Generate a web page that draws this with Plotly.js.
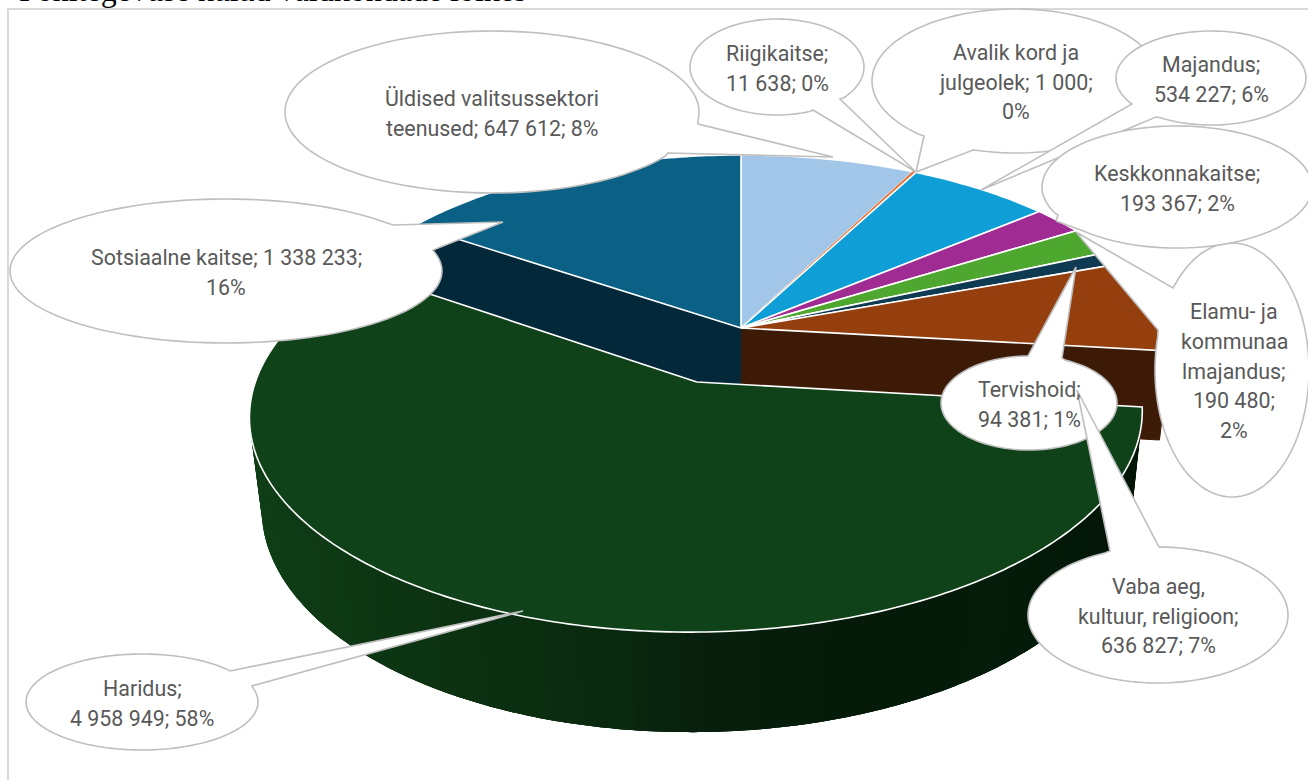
<!DOCTYPE html>
<html><head><meta charset="utf-8">
<script src="https://cdn.plot.ly/plotly-3.0.1.min.js"></script>
<style>html,body{margin:0;padding:0;background:#fff;overflow:hidden}#c{width:1308px;height:780px}</style>
</head><body><div id="c"></div>
<script>
// --- data ---
const categories = ["Üldised valitsussektori teenused","Riigikaitse","Avalik kord ja julgeolek","Majandus","Keskkonnakaitse","Elamu- ja kommunaalmajandus","Tervishoid","Vaba aeg, kultuur, religioon","Haridus","Sotsiaalne kaitse"];
const values = [647612,11638,1000,534227,193367,190480,94381,636827,4958949,1338233];
const labelTemplates = [
  "Üldised valitsussektori|teenused; {v}; {p}%",
  "Riigikaitse;|{v}; {p}%",
  "Avalik kord ja|julgeolek; {v};|{p}%",
  "Majandus;|{v}; {p}%",
  "Keskkonnakaitse;|{v}; {p}%",
  "Elamu- ja|kommunaa|lmajandus;|{v};|{p}%",
  "Tervishoid;|{v}; {p}%",
  "Vaba aeg,|kultuur, religioon;|{v}; {p}%",
  "Haridus;|{v}; {p}%",
  "Sotsiaalne kaitse; {v};|{p}%"
];
const sliceColors = ["#a2c6e8","#e97132","#196b24","#0f9ed5","#a02b93","#4ea72e","#0e3a52","#953f0f","#10421a","#0a6085"];
const chartTitle = "Põhitegevuse kulud valdkondade lõikes";

// --- style / geometry ---
const FONT = "Roboto, sans-serif", TXT = "#595959", EDGE = "#bfbfbf";
const cam = {cx:741, cy:328, R:425, B:197.6, a:0.142, zs:0.975};
const offsets = {8:[-0.10,-0.263]};              // exploded slice: Haridus
const cutFaces = {7:"#3c1a06", 9:"#02283a"};     // visible cut walls
const wallStops = [[252,[15,62,22]],[400,[12,52,18]],[560,[11,44,16]],[700,[8,32,13]],[850,[5,26,9]],[1000,[5,28,10]],[1145,[2,20,6]]];
// callouts: ellipse centre, radii, tail tip, tail base points; listed in drawing order
const callouts = [
 {i:0,c:[492,112],r:[207,81],tip:[833,157],b:[[698,124],[668,153]]},
 {i:1,c:[777,67],r:[87,48],tip:[916,172],b:[[813,110],[840,99]]},
 {i:2,c:[1016,81],r:[144,72],tip:[916,172],b:[[924,136],[973,150]]},
 {i:3,c:[1211,78],r:[95,47],tip:[981,190],b:[[1132,104],[1156,117]]},
 {i:5,c:[1232,370],r:[77,127],tip:[1076,232],b:[[1173,288],[1158,330]]},
 {i:4,c:[1177,187],r:[135,61],tip:[1056,221],b:[[1058,215],[1078,229]]},
 {i:6,c:[1029,403],r:[88,47],tip:[1076,267],b:[[1028,356],[1062,358]]},
 {i:7,c:[1158,615],r:[130,68],tip:[1077,390],b:[[1110,551],[1159,547]]},
 {i:8,c:[142,702],r:[116,48],tip:[523,611],b:[[230,671],[252,686]]},
 {i:9,c:[226,271],r:[216,72],tip:[503,222],b:[[393,225],[433,250]]}
];

const total = values.reduce((a,b)=>a+b,0);
const fmt = v => String(v).replace(/\B(?=(\d{3})+$)/g," ");
function project(x,y,bottom){
  const s = 1/(1+cam.a*y);
  return [cam.cx+cam.R*x*s*(bottom?cam.zs:1), cam.cy-cam.B*y*s+(bottom?33+55*s:0)];
}
function rim(i,th,bottom){
  const o = offsets[i]||[0,0];
  return project(Math.sin(th)+o[0],Math.cos(th)+o[1],bottom);
}
function apex(i,bottom){ const o=offsets[i]||[0,0]; return project(o[0],o[1],bottom); }
function poly(pts,fill,lineColor,width){
  return {type:"scatter",mode:"lines",x:pts.map(p=>p[0]),y:pts.map(p=>p[1]),fill:"toself",fillcolor:fill,
    line:{color:lineColor,width:width,simplify:false},hoverinfo:"skip",showlegend:false};
}
function wallColor(x){
  for(let k=1;k<wallStops.length;k++){
    if(x<=wallStops[k][0]){
      const [x0,c0]=wallStops[k-1],[x1,c1]=wallStops[k],t=Math.max(0,(x-x0)/(x1-x0));
      return "rgb("+c0.map((c,j)=>Math.round(c+(c1[j]-c)*t)).join(",")+")";
    }
  }
  return "rgb("+wallStops[wallStops.length-1][1].join(",")+")";
}

// slice angles from the values
let cum=0;
const spans = values.map(v=>{const a=cum/total*2*Math.PI; cum+=v; return [a,cum/total*2*Math.PI];});
const traces=[];
function topFace(i){
  const [a0,a1]=spans[i], n=Math.max(2,Math.ceil((a1-a0)/0.015)), pts=[apex(i,false)];
  for(let k=0;k<=n;k++) pts.push(rim(i,a0+(a1-a0)*k/n,false));
  pts.push(apex(i,false));
  const big = values[i]/total>0.005;
  return poly(pts,sliceColors[i],big?"#ffffff":sliceColors[i],big?1.6:1);
}
// back pieces: cut walls, then top faces
Object.keys(cutFaces).forEach(k=>{
  const i=+k, th=(i===7)?spans[i][1]:spans[i][0];
  traces.push(poly([apex(i,false),rim(i,th,false),rim(i,th,true),apex(i,true)],cutFaces[k],cutFaces[k],1));
});
values.forEach((v,i)=>{ if(i!==8) traces.push(topFace(i)); });
// exploded slice: outer wall painted band by band; each band overlaps the next to hide seams
{
  const [a0,a1]=spans[8], step=0.035, n=Math.ceil((a1-a0)/step);
  for(let k=0;k<n;k++){
    const t0=a0+(a1-a0)*k/n, t1=Math.min(a1,a0+(a1-a0)*(k+3)/n), m=a0+(a1-a0)*(k+0.5)/n;
    const col=wallColor(rim(8,m,false)[0]);
    const pts=[], J=9;
    for(let j=0;j<=J;j++) pts.push(rim(8,t1+(t0-t1)*j/J,false));
    for(let j=J;j>=0;j--) pts.push(rim(8,t1+(t0-t1)*j/J,true));
    pts.push(pts[0]);
    traces.push(poly(pts,col,col,0));
  }
  traces.push(topFace(8));
}
// callouts
function calloutPath(c){
  const ang=p=>Math.atan2((p[1]-c.c[1])/c.r[1],(p[0]-c.c[0])/c.r[0]);
  const T=2*Math.PI, mod=x=>((x%T)+T)%T;
  const a1=ang(c.b[0]), a2=ang(c.b[1]), ta=ang(c.tip);
  let d=mod(a2-a1);
  if(mod(ta-a1)<d) d=d-T;
  const pts=[c.tip,c.b[0]], n=120;
  for(let k=1;k<n;k++){
    const t=a1+d*k/n;
    pts.push([c.c[0]+c.r[0]*Math.cos(t),c.c[1]+c.r[1]*Math.sin(t)]);
  }
  pts.push(c.b[1],c.tip);
  return pts;
}
const annotations=[];
callouts.forEach(c=>traces.push(poly(calloutPath(c),"#ffffff",EDGE,1.6)));
const LINE=29.7, TEXT_DY=1.2;
callouts.forEach(c=>{
  const pct=Math.round(values[c.i]/total*100);
  const lines=labelTemplates[c.i].replace("{v}",fmt(values[c.i])).replace("{p}",pct).split("|");
  lines.forEach((t,k)=>annotations.push({
    x:c.c[0]+(c.i===5?2:0),y:c.c[1]+TEXT_DY+(k-(lines.length-1)/2)*LINE,xref:"x",yref:"y",text:t,showarrow:false,
    xanchor:"center",yanchor:"middle",font:{family:FONT,size:21.4,color:TXT}
  }));
});
annotations.push({x:17,y:10,xref:"x",yref:"y",text:chartTitle,showarrow:false,xanchor:"left",yanchor:"bottom",
  font:{family:"'Liberation Serif', serif",size:32,color:"#000"}});

Plotly.newPlot("c",traces,{
  width:1308,height:780,margin:{l:0,r:0,t:0,b:0},paper_bgcolor:"#fff",plot_bgcolor:"#fff",showlegend:false,
  xaxis:{range:[0,1308],visible:false,fixedrange:true},
  yaxis:{range:[780,0],visible:false,fixedrange:true},
  shapes:[{type:"rect",xref:"x",yref:"y",x0:8,y0:9,x1:1330,y1:800,line:{color:"#d9d9d9",width:2},fillcolor:"rgba(0,0,0,0)",layer:"below"}],
  annotations
},{displayModeBar:false,staticPlot:true});
</script></body></html>
